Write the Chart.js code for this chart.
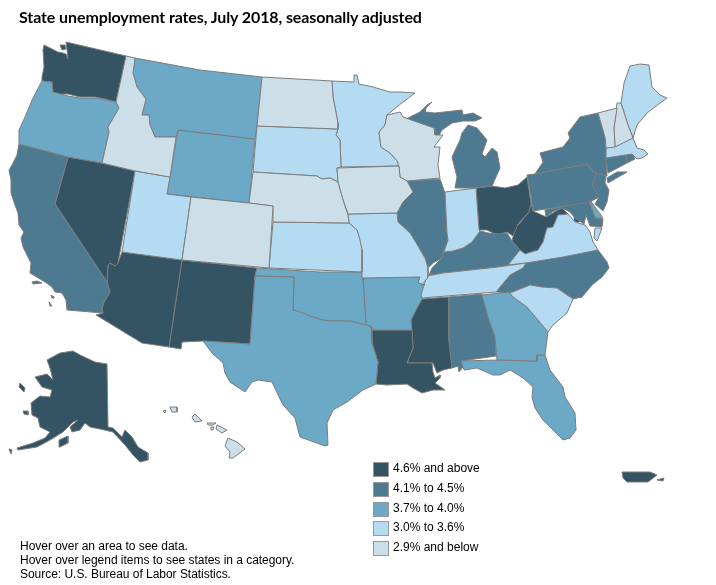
<!DOCTYPE html>
<html><head><meta charset="utf-8">
<script src="https://cdn.jsdelivr.net/npm/chart.js@4"></script>
<style>
html,body{margin:0;padding:0;background:#fff}
#wrap{position:relative;width:716px;height:585px;overflow:hidden}
canvas{position:absolute;left:0;top:0}
#title{position:absolute;left:19px;top:7px;font:bold 16px Lato,sans-serif;letter-spacing:-0.1px;color:#000;white-space:nowrap}
.lg{position:absolute;left:373px;width:16px;height:15px;border:1px solid #999;box-sizing:border-box}
.lt{position:absolute;left:393px;font:12px/14px "Liberation Sans",Arial,sans-serif;color:#000;white-space:nowrap}
#foot{position:absolute;left:20px;top:539px;font:12px/14px "Liberation Sans",Arial,sans-serif;letter-spacing:-0.03px;color:#000;white-space:nowrap}
</style></head><body>
<div id="wrap"><canvas id="c" width="716" height="585"></canvas>
<div id="title">State unemployment rates, July 2018, seasonally adjusted</div>
<div id="legend"></div>
<div id="foot">Hover over an area to see data.<br>Hover over legend items to see states in a category.<br>Source: U.S. Bureau of Labor Statistics.</div>
</div>
<script>
const categories=["4.6% and above","4.1% to 4.5%","3.7% to 4.0%","3.0% to 3.6%","2.9% and below"];
const fillColors=["#345464","#4d7a91","#6ba9c7","#b5dbf2","#ccdfe9"];

const WA=[44,45,50,48,58,52,63,53,66,54,68,59,67,50,66,42,96,49,126,56,116,102,105,99,95,97,80,97,68,94,60,94,53,92,52,82,42,81,42,77,44,67,43,50];
const WA2=[60,45,65,45,66,49,62,50];
const OR=[42,81,52,82,53,92,60,94,68,96,80,98,97,98,116,102,119,108,115,115,108,127,109,132,102,163,68,157,19,144,19,130,25,117,33,98];
const CA=[19,144,68,157,55,204,107,282,110,292,104,302,102,308,103,313,67,310,66,300,62,293,55,292,52,287,45,282,30,273,31,263,23,247,21,238,24,232,19,225,18,213,15,205,11,193,11,180,9,170,12,165,17,155];
const CA2=[32,282,37,281,42,283,33,284];
const CA3=[51,295,54,297,54,298,52,298];
const CA4=[49,302,52,306,50,306];
const NV=[68,157,102,163,135,171,120,252,118,263,115,266,110,263,108,265,107,282,55,204];
const ID=[126,56,135,58,133,73,137,87,146,99,142,115,149,115,150,125,155,137,173,137,176,137,170,177,135,171,102,163,109,132,108,127,115,115,119,108,116,102];
const MT=[135,58,200,70,262,77,257,126,255,139,178,130,176,137,173,137,155,137,150,125,149,115,142,115,146,99,137,87,133,73];
const WY=[178,130,255,139,249,203,167,194];
const UT=[135,171,170,177,167,194,191,197,182,260,122,252];
const CO=[191,197,249,203,273,206,269,268,182,260];
const NM=[182,260,257,268,255,276,250,344,203,341,182,342,181,349,169,347];
const AZ=[122,252,182,260,169,347,142,343,96,315,103,313,102,308,104,302,110,292,107,282,108,265,110,263,115,266,118,263];
const TX=[255,276,294,277,293,310,300,312,310,316,322,320,333,321,350,321,366,325,371,327,372,343,378,362,376,384,363,390,347,402,333,410,327,423,328,445,325,446,300,437,295,418,283,405,272,382,258,380,252,382,245,392,230,382,225,373,223,363,212,353,203,341,250,344];
const OK=[257,268,320,272,362,272,363,280,366,325,350,321,333,321,322,320,310,316,300,312,293,310,294,277,255,276];
const KS=[273,222,349,223,357,230,360,240,362,250,362,272,269,268];
const NE=[253,172,317,176,322,179,330,178,338,182,343,200,348,215,349,223,273,222,273,206,249,203];
const SD=[257,126,338,129,336,135,340,140,341,167,337,168,338,182,330,178,322,179,317,176,253,172];
const ND=[262,77,332,81,333,97,338,123,338,129,257,126];
const MN=[332,81,354,82,354,75,357,75,359,84,373,87,390,92,400,92,415,93,403,102,387,115,385,125,379,132,381,147,390,153,398,162,399,166,341,167,340,140,336,135,338,129,338,123,333,97];
const IA=[337,168,399,166,400,177,407,181,413,192,403,202,397,213,348,214,343,200,338,182];
const WI=[387,115,400,112,403,117,434,128,435,135,443,135,434,147,440,147,438,165,440,178,407,181,400,177,399,166,398,162,390,153,381,147,379,132,385,125];
const IL=[407,181,440,179,445,193,447,233,448,240,443,252,442,258,433,263,428,268,425,258,415,241,410,233,398,222,397,213,403,202,413,192];
const IN=[445,192,476,188,479,230,480,231,472,242,463,248,453,251,444,252,448,240,447,233];
const OH=[476,188,492,186,505,188,518,185,527,177,531,203,529,212,518,224,513,236,507,232,497,235,487,230,479,230];
const WV=[531,203,533,211,546,217,558,210,562,208,568,214,558,215,553,227,547,228,543,242,538,250,525,254,520,250,512,241,515,228,520,223,529,212];
const KY=[480,231,488,233,497,234,507,233,512,241,520,250,508,265,498,267,443,273,429,275,432,268,442,258,443,252,453,251,463,248,472,242];
const TN=[427,276,443,273,498,267,526,263,523,268,510,275,496,292,422,298,421,295,424,285];
const VA=[508,265,520,250,525,254,538,250,543,242,547,228,553,227,558,215,568,214,575,222,585,225,590,232,593,242,598,250,563,257,526,263];
const VA2=[595,228,602,228,597,241,594,238];
const NC=[526,263,598,250,607,262,609,268,602,277,592,285,582,297,573,299,557,288,542,287,530,285,510,293,496,292,510,275,523,268];
const SC=[510,293,530,285,542,287,557,288,573,299,567,313,553,325,548,332,538,320,527,307,513,297];
const GA=[482,295,510,292,513,297,527,307,538,320,548,332,545,355,537,355,537,361,497,360,495,337,488,317];
const AL=[449,297,482,294,488,317,495,337,496,356,461,361,463,367,459,372,458,366,452,368,449,340];
const MS=[422,299,449,297,449,340,452,368,443,370,437,373,433,363,407,363,413,348,411,320,417,308];
const LA=[371,330,412,330,413,348,407,363,432,363,433,372,435,378,440,375,440,378,435,383,445,390,433,390,422,393,413,388,407,384,387,385,376,384,378,362,372,343];
const AR=[363,278,420,277,418,283,425,285,422,299,417,308,411,320,412,330,371,330,371,326,366,325];
const MO=[348,214,397,213,398,222,410,233,415,241,425,258,428,268,428,277,422,285,425,285,418,283,420,277,363,278,362,272,362,250,357,230,349,223];
const FL=[461,361,497,360,537,361,537,355,545,355,550,370,563,387,565,397,575,413,576,430,570,438,563,440,553,430,543,420,535,408,532,397,533,387,523,378,510,370,500,375,493,375,477,368,464,370];
const MIU=[406,119,420,112,427,105,432,102,426,108,425,112,435,113,462,110,463,115,473,113,482,118,475,121,463,121,452,123,442,130,438,137,435,134,434,128];
const MIL=[455,188,476,188,492,186,500,168,497,152,492,148,485,157,482,154,487,140,477,128,468,125,462,133,460,140,452,157,457,177];
const NY=[535,174,587,164,592,170,597,173,607,176,606,158,606,148,605,137,598,113,580,117,568,133,570,138,563,147,540,153,543,162];
const NY2=[607,178,617,172,627,172,608,183];
const PA=[527,175,535,174,587,164,592,171,597,173,592,185,599,197,590,202,533,211,531,197];
const NJ=[597,173,606,176,605,183,609,190,607,202,603,211,595,204,599,197,592,185];
const CT=[606,158,626,154,627,163,608,173];
const RI=[626,154,632,154,635,159,627,163];
const MA=[606,148,633,138,637,148,644,150,648,154,642,158,637,159,632,154,606,158];
const VT=[598,113,617,108,614,128,615,147,606,148,605,137];
const NH=[617,103,621,103,628,125,633,138,615,147,614,128];
const ME=[630,66,640,64,649,65,652,87,660,95,667,98,660,103,647,113,637,125,633,138,628,125,621,103,624,83];
const MD=[545,210,589,201,595,218,603,219,602,227,590,226,586,215,584,224,575,218,570,212,562,208,552,212,546,217];
const DE=[590,200,595,207,603,218,595,218];
const BAY=[585,210,589,224,594,238,595,243,590,243,588,235,584,228,586,220];
const PAM=[597,263,604,262,605,267,597,273,592,272];
const AK=[47,360,60,353,73,351,80,355,95,362,107,364,108,427,113,428,122,437,125,430,132,437,138,447,148,453,148,460,140,462,133,455,125,445,113,432,100,429,90,427,85,423,80,430,72,432,70,427,78,420,73,422,63,432,50,440,37,447,18,450,17,448,33,443,45,438,50,432,40,427,38,418,32,415,31,403,40,396,50,397,52,390,42,387,35,377,47,374,53,380,50,368];
const AK2=[59,440,68,436,68,443,60,447];
const AK3=[20,383,25,388,24,392,19,387];
const AK4=[23,411,28,411,28,415,24,414];
const AK5=[9,449,12,450,11,454];
const HI1=[228,438,237,442,245,449,233,458,229,458,230,452,225,446];
const HI2=[217,425,227,430,222,433,216,429];
const HI3=[195,414,202,421,195,422,192,417];
const HI4=[170,407,177,407,177,412,172,412];
const HI5=[163,411,166,410,165,413];
const HI6=[207,423,216,423,213,425,208,425];
const HI7=[211,427,214,427,213,430,211,430];
const PR=[622,472,650,472,657,475,648,482,627,482,623,478];
const PR2=[657,480,664,478,663,481];
const DC=[578,218];

const cat0=[WA,WA2,NV,AZ,NM,LA,MS,OH,WV,AK,AK2,AK3,AK4,AK5,PR,PR2];
const cat1=[CA,CA2,CA3,CA4,IL,MIU,MIL,KY,AL,NC,NY,NY2,PA,NJ,CT,RI,MD];
const cat2=[OR,MT,WY,TX,OK,AR,GA,FL,DE];
const cat3=[UT,KS,SD,MN,MO,IN,TN,VA,VA2,SC,ME,MA];
const cat4=[ID,CO,ND,NE,IA,WI,VT,NH,HI1,HI2,HI3,HI4,HI5,HI6,HI7];
const water=[BAY,PAM];

function pts(a){const o=[];for(let i=0;i<a.length;i+=2)o.push({x:a[i],y:a[i+1]});o.push({x:a[0],y:a[1]});return o;}
function poly(a,fill,border,w){return {data:pts(a),showLine:true,fill:'shape',backgroundColor:fill,borderColor:border,borderWidth:w,pointRadius:0,pointHoverRadius:0,tension:0,clip:false};}
const datasets=[];
[cat4,cat3,cat2,cat1,cat0].forEach((list,i)=>{const k=4-i;list.forEach(a=>datasets.push(poly(a,fillColors[k],'#7c7c7c',1)));});
water.forEach(a=>datasets.push(poly(a,'#ffffff','#ffffff',0.5)));
datasets.push({data:[{x:DC[0],y:DC[1]}],showLine:false,pointRadius:4,pointBackgroundColor:'#20597f',pointBorderColor:'#2a6a96',pointBorderWidth:1});

new Chart(document.getElementById('c'),{type:'scatter',data:{datasets},options:{
 responsive:false,animation:false,events:[],
 layout:{padding:0,autoPadding:false},
 plugins:{legend:{display:false},title:{display:false},tooltip:{enabled:false}},
 scales:{x:{type:'linear',min:0,max:716,display:false},y:{type:'linear',min:0,max:585,reverse:true,display:false}}
}});

const legendTops=[462,482,502,521,541];
const lg=document.getElementById('legend');
categories.forEach((t,i)=>{
 const s=document.createElement('div');s.className='lg';s.style.top=legendTops[i]+'px';s.style.background=fillColors[i];lg.appendChild(s);
 const l=document.createElement('div');l.className='lt';l.style.top=(legendTops[i]-1)+'px';l.textContent=t;lg.appendChild(l);
});
</script></body></html>
